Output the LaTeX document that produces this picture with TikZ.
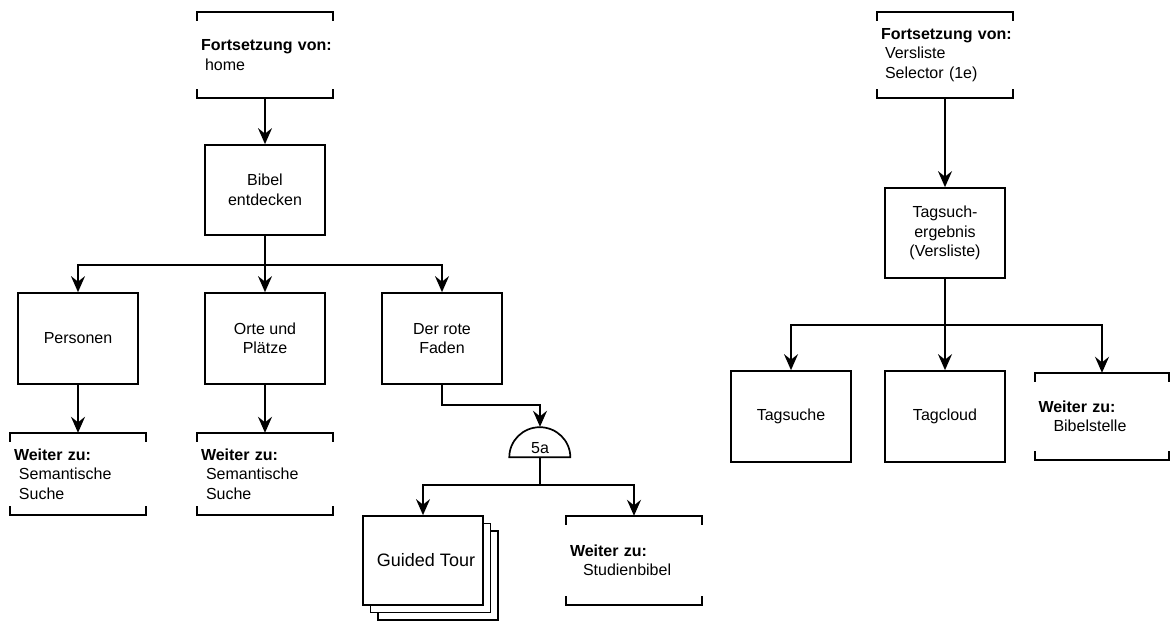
\documentclass[tikz,border=0pt]{standalone}
\usepackage{fontspec}
\setmainfont{Liberation Sans}
\usetikzlibrary{arrows.meta,shadows}
\newcommand\dfont{\fontsize{16}{19.5}\selectfont}
\newcommand\bigdfont{\fontsize{18}{21}\selectfont}
\begin{document}
\begin{tikzpicture}[x=1pt,y=-1pt,
  box/.style={draw, line width=1.7pt, fill=white, inner sep=0pt, align=center, font=\dfont},
  bbox/.style={inner xsep=4pt, inner ysep=0pt, align=left, font=\dfont},
  conn/.style={line width=1.7pt, -{Stealth[length=16pt,width=14pt,inset=5.5pt]}},
  line/.style={line width=1.7pt},
  bracket/.style={line width=1.7pt},
]
\useasboundingbox (0,0) rectangle (1173,621);

% ---- left tree ----
\node[bbox, minimum width=136pt, text width=128pt, minimum height=86pt] (home) at (265,55)
  {\mbox{\textbf{Fortsetzung von:}}\\\hspace*{4pt}home};
\node[box, minimum width=120pt, minimum height=90pt] (bibel) at (265,190) {Bibel\\entdecken};
\node[box, minimum width=120pt, minimum height=91pt] (pers) at (78,338.5) {Personen};
\node[box, minimum width=120pt, minimum height=91pt] (orte) at (265,338.5) {Orte und\\Plätze};
\node[box, minimum width=120pt, minimum height=91pt] (faden) at (442,338.5) {Der rote\\Faden};
\node[bbox, minimum width=136pt, text width=128pt, minimum height=82pt, inner xsep=3.5pt] (sem1) at (78,474)
  {\textbf{Weiter zu:}\\\hspace*{5pt}Semantische\\\hspace*{5pt}Suche};
\node[bbox, minimum width=136pt, text width=128pt, minimum height=82pt, inner xsep=3.5pt] (sem2) at (265,474)
  {\textbf{Weiter zu:}\\\hspace*{5pt}Semantische\\\hspace*{5pt}Suche};

% fork 5a
\node[minimum width=61pt, minimum height=30pt, inner sep=0pt] (fork) at (540,442) {};
\draw[line] (fork.south west) arc[start angle=180, end angle=0, x radius=30.5pt, y radius=30pt] -- cycle;
\node[font=\dfont] (forklabel) at ([yshift=-6pt]fork.center) {5a};

\node[box, font=\bigdfont, minimum width=120pt, minimum height=89pt,
  double copy shadow={shadow xshift=7.5pt, shadow yshift=-7.5pt}] (tour) at (423,560.5) {\hspace*{6pt}Guided Tour};
\node[bbox, minimum width=136pt, text width=128pt, minimum height=89pt] (stud) at (634,560.5)
  {\textbf{Weiter zu:}\\\hspace*{13pt}Studienbibel};

% ---- right tree ----
\node[bbox, minimum width=136pt, text width=128pt, minimum height=86pt] (vers) at (945,55)
  {\mbox{\textbf{Fortsetzung von:}}\\\hspace*{4pt}Versliste\\\hspace*{4pt}Selector (1e)};
\node[box, minimum width=120pt, minimum height=90pt] (tagerg) at (945,233) {Tagsuch-\\ergebnis\\(Versliste)};
\node[box, minimum width=120pt, minimum height=91pt] (tagsuche) at (791,416.5) {Tagsuche};
\node[box, minimum width=120pt, minimum height=91pt] (tagcloud) at (945,416.5) {Tagcloud};
\node[bbox, minimum width=134pt, text width=127pt, minimum height=87pt, inner xsep=3.5pt] (bibst) at (1102,416.5)
  {\textbf{Weiter zu:}\\\hspace*{15pt}Bibelstelle};

% open brackets above and below the reference boxes
\foreach \n in {home,sem1,sem2,stud,vers,bibst}{
  \draw[bracket] ([yshift=-9pt]\n.north west) -- (\n.north west) -- (\n.north east) -- ([yshift=-9pt]\n.north east);
  \draw[bracket] ([yshift=9pt]\n.south west) -- (\n.south west) -- (\n.south east) -- ([yshift=9pt]\n.south east);
}

% ---- connectors ----
\draw[conn] (home.south) -- (bibel.north);
\draw[conn] (bibel.south) -- ++(0,29) -| (pers.north);
\draw[conn] (bibel.south) -- (orte.north);
\draw[conn] (bibel.south) -- ++(0,29) -| (faden.north);
\draw[conn] (pers.south) -- (pers.south |- sem1.north);
\draw[conn] (orte.south) -- (orte.south |- sem2.north);
\draw[conn] (faden.south) -- ++(0,20) -| (fork.north);
\draw[conn] (fork.south) -- ++(0,28) -| (tour.north);
\draw[conn] (fork.south) -- ++(0,28) -| (stud.north);

\draw[conn] (vers.south) -- (tagerg.north);
\draw[conn] (tagerg.south) -- ++(0,46) -| (tagsuche.north);
\draw[conn] (tagerg.south) -- (tagerg.south |- tagcloud.north);
\draw[conn] (tagerg.south) -- ++(0,46) -| (bibst.north);
\end{tikzpicture}
\end{document}
